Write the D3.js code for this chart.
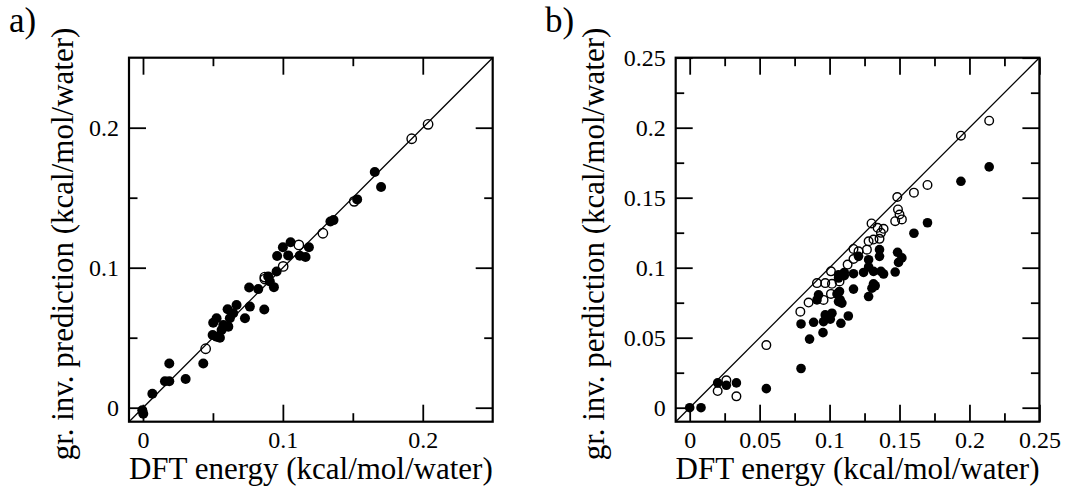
<!DOCTYPE html>
<html>
<head>
<meta charset="utf-8">
<script src="https://cdn.jsdelivr.net/npm/d3@7/dist/d3.min.js"></script>
<style>
  html, body { margin: 0; padding: 0; background: #fff; }
  svg { display: block; }
  svg text { font-family: 'Liberation Serif', 'Times New Roman', Times, serif; fill: #000; }
</style>
</head>
<body>
<svg id="chart" width="1071" height="489"></svg>
<script>
// ---------- data ----------
// Panel a: filled points (DFT energy, gr. inv. prediction)
const aFilledX = [0.1657, 0.1702, 0.1531, 0.1340, 0.1362, 0.1186, 0.1055, 0.1000, 0.0959, 0.1038, 0.1121, 0.1162,
  0.0955, 0.0895, 0.0907, 0.0936, 0.0759, 0.0824, 0.0867, 0.0764, 0.0669, 0.0605, 0.0729, 0.0645, 0.0621,
  0.0526, 0.0502, 0.0574, 0.0610, 0.0562, 0.0498, 0.0550, 0.0526, 0.0431, 0.0188, 0.0157, 0.0188, 0.0305,
  0.0067, -0.0005, 0.0002];
const aFilledY = [0.1684, 0.1577, 0.1488, 0.1330, 0.1340, 0.1146, 0.1182, 0.1146, 0.1084, 0.1088, 0.1086, 0.1077,
  0.0973, 0.0938, 0.0902, 0.0861, 0.0859, 0.0847, 0.0701, 0.0722, 0.0734, 0.0703, 0.0639, 0.0675, 0.0639,
  0.0639, 0.0607, 0.0591, 0.0579, 0.0555, 0.0519, 0.0500, 0.0507, 0.0316, 0.0316, 0.0189, 0.0189, 0.0205,
  0.0100, -0.0019, -0.0043];
// Panel a: open points
const aOpenX = [0.2038, 0.1921, 0.1510, 0.1286, 0.1114, 0.1002, 0.0871, 0.0871, 0.0448];
const aOpenY = [0.2024, 0.1921, 0.1474, 0.1246, 0.1163, 0.1009, 0.0933, 0.0919, 0.0421];

// Panel b: filled points
const bFilledX = [0.2141, 0.1939, 0.1700, 0.1603, 0.1357, 0.1357, 0.1486, 0.1517, 0.1493, 0.1469, 0.1207, 0.1279,
  0.1279, 0.1243, 0.1171, 0.1367, 0.1386, 0.1105, 0.1064, 0.1314, 0.1105, 0.1064, 0.1171, 0.1279, 0.1314,
  0.1326, 0.1303, 0.0921, 0.0910, 0.1053, 0.1071, 0.1076, 0.1088, 0.1064, 0.0796, 0.0857, 0.0886, 0.0957,
  0.0953, 0.0969, 0.0993, 0.1017, 0.1005, 0.1081, 0.1134, 0.0796, 0.0548, 0.0200, 0.0262, 0.0334, 0.0000,
  0.0081];
const bFilledY = [0.1720, 0.1617, 0.1321, 0.1246, 0.1129, 0.1081, 0.1110, 0.1070, 0.1038, 0.0969, 0.1081, 0.1057,
  0.1005, 0.0966, 0.0957, 0.0974, 0.0955, 0.0966, 0.0950, 0.0974, 0.0943, 0.0926, 0.0847, 0.0794, 0.0885,
  0.0871, 0.0854, 0.0806, 0.0770, 0.0813, 0.0830, 0.0770, 0.0747, 0.0758, 0.0598, 0.0490, 0.0610, 0.0615,
  0.0536, 0.0663, 0.0650, 0.0675, 0.0632, 0.0603, 0.0655, 0.0280, 0.0136, 0.0177, 0.0160, 0.0177, 0.0000,
  0.0000];
// Panel b: open points
const bOpenX = [0.2141, 0.1939, 0.1700, 0.1603, 0.1484, 0.1489, 0.1500, 0.1517, 0.1469, 0.1300, 0.1343, 0.1386,
  0.1367, 0.1357, 0.1314, 0.1279, 0.1267, 0.1171, 0.1207, 0.1171, 0.1129, 0.1010, 0.0910, 0.0969, 0.1017,
  0.1071, 0.0850, 0.0957, 0.1010, 0.0791, 0.0548, 0.0262, 0.0200, 0.0334];
const bOpenY = [0.2050, 0.1943, 0.1591, 0.1536, 0.1505, 0.1416, 0.1380, 0.1345, 0.1332, 0.1316, 0.1285, 0.1278,
  0.1249, 0.1206, 0.1201, 0.1189, 0.1129, 0.1134, 0.1117, 0.1062, 0.1022, 0.0974, 0.0890, 0.0890, 0.0885,
  0.0902, 0.0751, 0.0770, 0.0813, 0.0686, 0.0447, 0.0196, 0.0119, 0.0081];

// axis ticks / labels
const aMajor = [0, 0.1, 0.2];
const aMajorLabels = ["0", "0.1", "0.2"];
const aMinor = [0.05, 0.15];
const bMajor = [0, 0.05, 0.1, 0.15, 0.2, 0.25];
const bMajorLabels = ["0", "0.05", "0.1", "0.15", "0.2", "0.25"];
const bMinor = [0.025, 0.075, 0.125, 0.175, 0.225];
const domain = [-0.01, 0.25];

const xLabel = "DFT energy (kcal/mol/water)";
const yLabelA = "gr. inv. prediction (kcal/mol/water)";
const yLabelB = "gr. inv. perdiction (kcal/mol/water)";

// ---------- drawing ----------
const SERIF = "'Liberation Serif', 'Times New Roman', Times, serif";
const svg = d3.select("#chart");
svg.append("rect").attr("width", 1071).attr("height", 489).attr("fill", "#fff");

const W = 363.7, H = 364;
const MAJ = 17, MIN = 8.5;

function panel(cfg) {
  const g = svg.append("g").attr("transform", `translate(${cfg.left},${cfg.top})`);
  const x = d3.scaleLinear().domain(domain).range([0, W]);
  const y = d3.scaleLinear().domain(domain).range([H, 0]);

  // diagonal y = x
  g.append("line")
    .attr("x1", x(domain[0])).attr("y1", y(domain[0]))
    .attr("x2", x(domain[1])).attr("y2", y(domain[1]))
    .attr("stroke", "#000").attr("stroke-width", 1.3);

  const fmt = v => cfg.majorLabels[cfg.major.indexOf(v)];

  function axes(values, size, labels) {
    const bottom = g.append("g").attr("transform", `translate(0,${H})`)
      .call(d3.axisBottom(x).tickValues(values).tickSize(-size).tickPadding(9)
        .tickFormat(labels ? fmt : () => ""));
    const top = g.append("g")
      .call(d3.axisTop(x).tickValues(values).tickSize(-size).tickFormat(() => ""));
    const left = g.append("g")
      .call(d3.axisLeft(y).tickValues(values).tickSize(-size).tickPadding(10)
        .tickFormat(labels ? fmt : () => ""));
    const right = g.append("g").attr("transform", `translate(${W},0)`)
      .call(d3.axisRight(y).tickValues(values).tickSize(-size).tickFormat(() => ""));
    [bottom, top, left, right].forEach(a => {
      a.attr("font-family", null).attr("font-size", null);
      a.select(".domain").remove();
      a.selectAll(".tick line").attr("stroke", "#000").attr("stroke-width", 1.8);
      a.selectAll("text").style("font-family", SERIF)
        .style("font-size", "24px").attr("fill", "#000");
    });
    bottom.selectAll("text").attr("dy", "0.71em").attr("y", 9.5);
    left.selectAll("text").attr("x", -10).attr("dy", "0.33em");
  }
  axes(cfg.minor, MIN, false);
  axes(cfg.major, MAJ, true);

  // frame
  g.append("rect").attr("x", 0).attr("y", 0).attr("width", W).attr("height", H)
    .attr("fill", "none").attr("stroke", "#000").attr("stroke-width", 2.2);

  // points
  const filled = cfg.fx.map((v, i) => [v, cfg.fy[i]]);
  const open = cfg.ox.map((v, i) => [v, cfg.oy[i]]);
  g.selectAll("circle.f").data(filled).enter().append("circle")
    .attr("class", "f")
    .attr("cx", d => x(d[0])).attr("cy", d => y(d[1])).attr("r", cfg.rf)
    .attr("fill", "#000");
  g.selectAll("circle.o").data(open).enter().append("circle")
    .attr("class", "o")
    .attr("cx", d => x(d[0])).attr("cy", d => y(d[1])).attr("r", cfg.ro)
    .attr("fill", "none").attr("stroke", "#000").attr("stroke-width", 1.4);

  // axis titles
  svg.append("text").attr("x", cfg.left + W / 2).attr("y", 479)
    .attr("text-anchor", "middle").style("font-family", SERIF).style("font-size", "31px").text(xLabel);
  svg.append("text")
    .attr("transform", `translate(${cfg.ylabX},244) rotate(-90)`)
    .attr("text-anchor", "middle").style("font-family", SERIF).style("font-size", "31px").text(cfg.ylabel);

  // panel tag
  svg.append("text").attr("x", cfg.tagX).attr("y", 32)
    .style("font-family", SERIF).style("font-size", "35px").text(cfg.tag);
}

panel({ left: 129, top: 57.7, major: aMajor, majorLabels: aMajorLabels, minor: aMinor,
  fx: aFilledX, fy: aFilledY, ox: aOpenX, oy: aOpenY, rf: 5, ro: 4.7,
  ylabel: yLabelA, ylabX: 73, tag: "a)", tagX: 9 });
panel({ left: 675.7, top: 57.7, major: bMajor, majorLabels: bMajorLabels, minor: bMinor,
  fx: bFilledX, fy: bFilledY, ox: bOpenX, oy: bOpenY, rf: 4.8, ro: 4.3,
  ylabel: yLabelB, ylabX: 604, tag: "b)", tagX: 545 });
</script>
</body>
</html>
